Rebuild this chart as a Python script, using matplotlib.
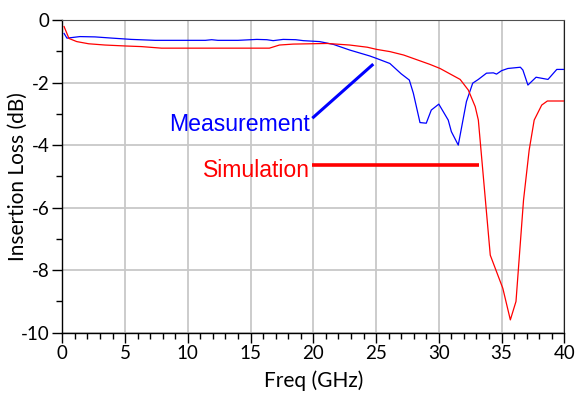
import matplotlib
matplotlib.use("Agg")
import matplotlib.pyplot as plt
from matplotlib.ticker import MultipleLocator

plt.rcParams["axes.unicode_minus"] = False

# ---------- data ----------
meas_freq = [0.14, 0.37, 1.4, 2.6, 4.0, 5.5, 7.4, 9.5, 11.4, 11.9, 12.4, 14.0, 15.5,
             16.3, 16.8, 17.6, 18.6, 19.2, 20.5, 21.6, 22.9, 24.5, 25.05, 26.1, 27.0,
             27.65, 27.97, 28.5, 29.0, 29.4, 30.0, 30.75, 31.0, 31.55, 32.2, 32.7,
             33.15, 33.8, 34.35, 34.6, 35.0, 35.5, 36.5, 36.7, 37.1, 37.75, 38.7,
             39.4, 40.0]
meas_db = [-0.43, -0.58, -0.53, -0.54, -0.58, -0.62, -0.65, -0.65, -0.65, -0.63, -0.65,
           -0.65, -0.62, -0.63, -0.66, -0.62, -0.63, -0.66, -0.69, -0.78, -0.96, -1.15,
           -1.23, -1.39, -1.72, -1.92, -2.34, -3.28, -3.30, -2.88, -2.69, -3.2, -3.57,
           -4.0, -2.61, -2.02, -1.9, -1.70, -1.69, -1.73, -1.62, -1.55, -1.51, -1.6,
           -2.08, -1.83, -1.9, -1.58, -1.58]

sim_freq = [0.14, 0.53, 1.15, 2.1, 3.4, 5.0, 6.3, 7.9, 12.0, 16.5, 17.3, 18.4, 21.1,
            22.9, 24.3, 25.05, 26.1, 27.2, 29.3, 30.1, 31.7, 32.35, 32.9, 33.15, 34.1,
            35.1, 35.7, 36.15, 36.75, 37.2, 37.6, 38.2, 38.65, 40.0]
sim_db = [-0.21, -0.59, -0.69, -0.76, -0.8, -0.83, -0.85, -0.9, -0.9, -0.9, -0.8, -0.77,
          -0.75, -0.8, -0.87, -0.94, -1.01, -1.12, -1.42, -1.55, -1.9, -2.24, -2.77,
          -3.2, -7.52, -8.58, -9.59, -9.0, -5.76, -4.16, -3.2, -2.72, -2.59, -2.59]

# annotation label anchors and leader lines (data coords)
meas_label_xy = (19.75, -3.33)
meas_leader_x = [19.92, 24.78]
meas_leader_y = [-3.14, -1.41]
sim_label_xy = (19.75, -4.8)
sim_leader_x = [19.92, 33.2]
sim_leader_y = [-4.64, -4.64]

BLUE = "#0000ff"
RED = "#ff0000"
GRID = "#c8c8c8"
TICK_FONT = "Lato"
NOTE_FONT = "Liberation Sans"

fig = plt.figure(figsize=(5.76, 3.94), dpi=100)
ax = fig.add_axes([0.1082, 0.1556, 0.8715, 0.7936])

ax.plot(meas_freq, meas_db, color=BLUE, linewidth=0.9, zorder=3)
ax.plot(sim_freq, sim_db, color=RED, linewidth=0.9, zorder=3)

ax.plot(meas_leader_x, meas_leader_y, color=BLUE, linewidth=2.2, zorder=4,
        solid_capstyle="butt")
ax.plot(sim_leader_x, sim_leader_y, color=RED, linewidth=2.6, zorder=4,
        solid_capstyle="butt")
ax.text(*meas_label_xy, "Measurement", color=BLUE, fontsize=16.6, family=NOTE_FONT,
        ha="right", va="center")
ax.text(*sim_label_xy, "Simulation", color=RED, fontsize=16.6, family=NOTE_FONT,
        ha="right", va="center")

# ---------- axes ----------
ax.set_xlim(0, 40)
ax.set_ylim(-10, 0)
ax.xaxis.set_major_locator(MultipleLocator(5))
ax.xaxis.set_minor_locator(MultipleLocator(1))
ax.yaxis.set_major_locator(MultipleLocator(2))
ax.yaxis.set_minor_locator(MultipleLocator(1))
ax.grid(which="major", color=GRID, linewidth=1.3, zorder=0)
ax.set_axisbelow(True)

ax.tick_params(which="major", direction="out", length=7, width=1, color="black",
               labelsize=13.5, pad=2)
ax.tick_params(which="minor", direction="out", length=4.5, width=1, color="black")
for lab in ax.get_xticklabels() + ax.get_yticklabels():
    lab.set_family(TICK_FONT)

for side in ("left", "bottom"):
    ax.spines[side].set_color("black")
    ax.spines[side].set_linewidth(1.0)
ax.spines["top"].set_color("#505050")
ax.spines["right"].set_color("#202020")

ax.set_xlabel("Freq (GHz)", family=TICK_FONT, fontsize=15, va="center")
ax.set_ylabel("Insertion Loss (dB)", family=TICK_FONT, fontsize=15, va="center")
ax.xaxis.set_label_coords(0.5, -0.154)
ax.yaxis.set_label_coords(-0.088, 0.5)

fig.savefig("out.png", dpi=100)
